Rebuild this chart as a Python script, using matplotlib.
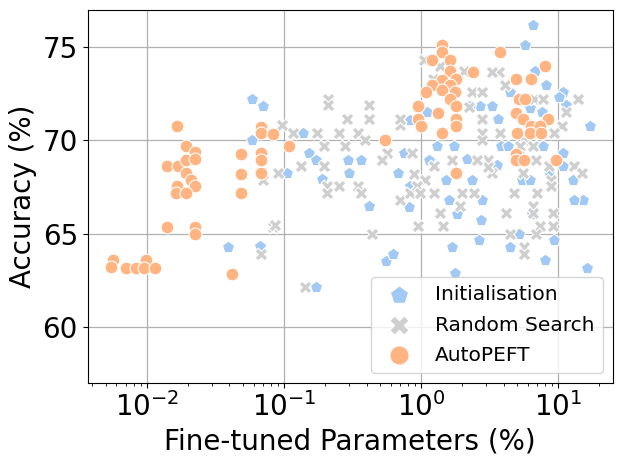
import matplotlib
matplotlib.use("Agg")
import matplotlib.pyplot as plt

# Initialisation samples (params %, accuracy %)
init_params = [0.0586, 0.0702, 0.0586, 0.137, 0.151, 0.171, 0.106, 0.190, 0.291, 0.299,
               0.0392, 0.0668, 0.171, 0.364, 0.418, 0.678, 0.751, 0.824, 0.813, 1.10,
               0.824, 1.135, 6.60, 5.71, 6.72, 8.16, 10.9, 11.5, 17.1, 3.29,
               2.71, 2.28, 3.61, 4.47, 7.65, 6.18, 1.30, 1.73, 2.18, 1.53,
               2.37, 3.86, 4.34, 7.71, 10.9, 5.47, 6.28, 8.51, 12.9, 15.3,
               12.96, 1.61, 2.78, 1.83, 2.72, 2.63, 1.68, 1.78, 4.49, 5.20,
               9.38, 7.96, 16.2, 3.59, 6.47, 0.557, 0.623, 10.9, 10.2]
init_acc = [72.21, 71.86, 70.04, 70.40, 69.33, 68.97, 68.25, 67.91, 68.97, 68.25,
            64.26, 64.33, 62.11, 68.97, 66.47, 68.25, 69.33, 67.57, 66.45, 71.50,
            71.11, 68.93, 76.18, 75.13, 73.73, 72.95, 72.59, 71.88, 70.77, 71.85,
            71.85, 71.85, 71.16, 72.59, 71.50, 71.72, 69.68, 69.68, 69.01, 67.89,
            67.88, 69.68, 69.68, 69.68, 69.33, 67.86, 67.88, 68.29, 67.86, 66.82,
            66.82, 66.82, 66.82, 66.06, 65.72, 64.67, 64.27, 62.88, 64.27, 65.00,
            64.67, 63.56, 63.18, 68.66, 66.06, 63.54, 63.91, 68.61, 72.31]

# Random search samples
rand_params = [0.211, 0.211, 0.287, 0.0962, 0.117, 0.173, 0.252, 0.279, 0.197, 0.134,
               0.197, 0.0904, 0.0706, 0.206, 0.254, 0.206, 0.0835, 0.0679, 0.142, 0.420,
               0.420, 0.344, 0.391, 0.696, 0.858, 0.563, 0.518, 0.344, 0.364, 0.705,
               0.834, 0.892, 1.073, 0.933, 0.975, 0.0859, 0.954, 0.705, 1.234, 1.68,
               1.99, 2.42, 3.08, 3.30, 4.75, 5.56, 6.95, 8.90, 8.90, 13.0,
               14.8, 2.36, 2.79, 4.06, 3.69, 3.30, 2.05, 6.64, 7.78, 13.9,
               11.5, 10.6, 9.30, 3.79, 2.79, 2.79, 2.79, 2.22, 1.222, 1.381,
               1.043, 5.61, 6.58, 5.25, 3.08, 1.249, 2.56, 6.84, 8.55, 1.91,
               1.365, 1.445, 4.13, 6.58, 6.58, 9.21, 9.21, 7.35, 6.84, 4.49,
               5.61, 5.61, 5.16, 0.438]
rand_acc = [72.24, 71.88, 71.16, 70.81, 70.41, 70.41, 70.41, 69.68, 69.68, 68.61,
            68.61, 68.25, 67.86, 67.54, 67.54, 67.18, 65.36, 63.93, 62.11, 71.88,
            71.16, 70.41, 70.04, 70.81, 69.32, 69.32, 68.97, 67.54, 67.18, 66.83,
            67.18, 68.22, 67.90, 67.54, 67.18, 65.45, 65.42, 71.16, 67.18, 68.97,
            67.18, 67.18, 68.97, 68.25, 67.18, 68.25, 67.18, 67.90, 67.54, 68.61,
            68.25, 72.59, 72.59, 72.95, 73.66, 73.66, 73.70, 72.24, 72.24, 72.24,
            71.50, 70.78, 70.41, 70.41, 70.41, 70.04, 71.16, 71.82, 73.27, 74.02,
            74.34, 70.04, 69.68, 69.68, 68.57, 68.61, 68.97, 68.97, 68.61, 66.47,
            66.11, 65.40, 66.11, 66.47, 66.11, 66.11, 65.40, 65.40, 65.00, 65.00,
            64.29, 63.93, 69.15, 65.00]

# AutoPEFT samples
auto_params = [0.0167, 0.0194, 0.0223, 0.0139, 0.0168, 0.0194, 0.0223, 0.0194, 0.0211, 0.0167,
               0.0223, 0.0164, 0.0194, 0.0489, 0.0489, 0.0489, 0.0684, 0.0684, 0.0832, 0.0684,
               0.0684, 0.0684, 0.109, 0.0139, 0.0223, 0.0223, 0.0057, 0.0055, 0.0070, 0.0083,
               0.0098, 0.0096, 0.0114, 0.0417,
               1.41, 1.41, 1.21, 1.62, 1.62, 1.41, 1.81, 1.21, 1.62, 1.082,
               1.41, 1.76, 1.62, 1.81, 0.951, 1.33, 0.951, 1.81, 1.007, 1.81,
               1.41, 0.543, 1.81, 2.40, 3.75, 8.00, 4.91, 6.32, 5.16, 5.71,
               4.91, 5.56, 8.45, 6.32, 7.35, 4.97, 6.21, 7.48, 4.91, 4.91,
               5.65, 9.62]
auto_acc = [70.77, 69.70, 69.38, 68.61, 68.63, 68.93, 68.98, 68.25, 67.86, 67.56,
            67.54, 67.18, 67.18, 69.29, 68.22, 67.18, 70.72, 70.42, 70.36, 69.32,
            68.93, 68.25, 69.70, 65.36, 65.36, 65.00, 63.58, 63.22, 63.18, 63.18,
            63.58, 63.18, 63.18, 62.83,
            75.13, 74.73, 74.34, 74.34, 73.70, 73.22, 73.27, 72.95, 72.95, 72.59,
            72.68, 72.59, 72.24, 71.84, 71.84, 71.49, 71.16, 71.16, 70.77, 70.77,
            70.42, 70.04, 68.25, 73.66, 74.73, 74.02, 73.27, 73.27, 72.24, 72.20,
            71.49, 71.16, 71.16, 70.77, 70.77, 70.42, 70.42, 70.42, 69.29, 68.97,
            68.97, 68.97]

fig = plt.figure(figsize=(6.23, 4.62), dpi=100)
ax = fig.add_axes([0.1408, 0.1716, 0.8427, 0.8068])

ax.scatter(init_params, init_acc, marker='p', s=85, color='#a1c9f4',
           edgecolors='white', linewidths=0.8, label='Initialisation', zorder=3)
ax.scatter(rand_params, rand_acc, marker='X', s=85, color='#cfcfcf',
           edgecolors='white', linewidths=0.8, label='Random Search', zorder=3)
ax.scatter(auto_params, auto_acc, marker='o', s=85, color='#ffb482',
           edgecolors='white', linewidths=0.8, label='AutoPEFT', zorder=3)

ax.set_xscale('log')
ax.set_xlim(0.0037, 25)
ax.set_ylim(57, 77)
ax.set_yticks([60, 65, 70, 75])
ax.grid(True, color='#b0b0b0', linewidth=0.9)
ax.set_axisbelow(True)
ax.tick_params(axis='both', which='major', labelsize=20)
ax.set_xlabel('Fine-tuned Parameters (%)', fontsize=20)
ax.set_ylabel('Accuracy (%)', fontsize=20)
ax.legend(loc='lower right', fontsize=14.5, markerscale=1.5, labelspacing=0.55)

fig.savefig('out.png', dpi=100)
